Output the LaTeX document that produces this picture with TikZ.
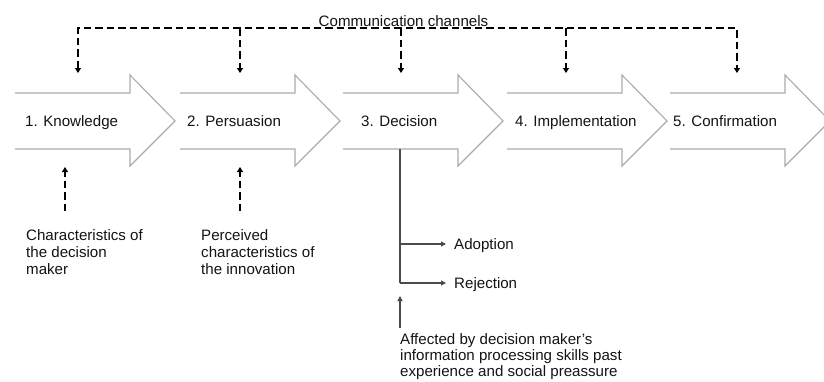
\documentclass[tikz,border=0pt]{standalone}
\usepackage{fontspec}
\setmainfont{Liberation Sans}
\usetikzlibrary{arrows.meta}
\definecolor{outl}{HTML}{ABABAB}
\definecolor{txt}{HTML}{141414}
\definecolor{sol}{HTML}{4A4A4A}
\begin{document}
\begin{tikzpicture}[x=1pt,y=-1pt,
  bigarrow/.style={draw=outl,line width=1.1pt,line join=miter},
  lbl/.style={inner sep=0pt,text=txt,font=\fontsize{15.1}{17}\selectfont},
  mlbl/.style={lbl,align=left,anchor=north west},
  dsh/.style={draw=black,line width=1.6pt,dash pattern=on 7.5pt off 4pt},
  tipd/.style={-{Triangle[length=5pt,width=6pt]}},
  solid line/.style={draw=sol,line width=1.1pt},
  tips/.style={-{Triangle[length=5pt,width=5pt]}}]
\clip (0,0) rectangle (824,381);
\fill[white] (0,0) rectangle (824,381);
% big open arrows
\foreach \l in {15,180,343,507,670}{
  \draw[bigarrow] (\l,93) -- (\l+115,93) -- (\l+115,75) -- (\l+160,121) -- (\l+115,166) -- (\l+115,149) -- (\l,149);
}
\node[lbl,anchor=base west] (k) at (25,126) {1. Knowledge};
\node[lbl,anchor=base west] (p) at (187,126) {2. Persuasion};
\node[lbl,anchor=base west] (d) at (361,126) {3. Decision};
\node[lbl,anchor=base west] (i) at (515,126) {4. Implementation};
\node[lbl,anchor=base west] (c) at (673,126) {5. Confirmation};
% communication channels
\node[lbl,anchor=base] (cc) at (403.5,26) {Communication channels};
\coordinate (t1) at (78,28);  \coordinate (a1) at (78,73);
\coordinate (t2) at (240,28); \coordinate (a2) at (240,73);
\coordinate (t3) at (401,28); \coordinate (a3) at (401,73);
\coordinate (t4) at (566,28); \coordinate (a4) at (566,73);
\coordinate (t5) at (737,28); \coordinate (a5) at (737,73);
\draw[dsh,{Triangle[length=5pt,width=6pt]}-{Triangle[length=5pt,width=6pt]}] (a1) -- (t1) -- (t5) -- (a5);
\draw[dsh,tipd] (t2) -- (a2);
\draw[dsh,tipd] (t3) -- (a3);
\draw[dsh,tipd] (t4) -- (a4);
% influences from below
\coordinate (u1s) at (65,211); \coordinate (u1e) at (65,167);
\coordinate (u2s) at (240,211); \coordinate (u2e) at (240,167);
\draw[dsh,tipd] (u1s) -- (u1e);
\draw[dsh,tipd] (u2s) -- (u2e);
\node[mlbl] (cdm) at (26,229.5) {Characteristics of\\the decision\\maker};
\node[mlbl] (pci) at (201,229.5) {Perceived\\characteristics of\\the innovation};
% decision branches
\coordinate (dtop) at (400,149);
\coordinate (dad) at (400,244);
\coordinate (drj) at (400,283);
\coordinate (ead) at (446,244);
\coordinate (erj) at (446,283);
\draw[solid line] (dtop) -- (drj);
\draw[solid line,tips] (dad) -- (ead);
\draw[solid line,tips] (drj) -- (erj);
\node[lbl,anchor=base west] (ad) at (454,249) {Adoption};
\node[lbl,anchor=base west] (rj) at (454,288) {Rejection};
\coordinate (fs) at (400,328); \coordinate (fe) at (400,296);
\draw[solid line,tips] (fs) -- (fe);
\node[mlbl,font=\fontsize{15.1}{16}\selectfont] (aff) at (400,333.5) {Affected by decision maker's\\information processing skills past\\experience and social preassure};
\end{tikzpicture}
\end{document}
